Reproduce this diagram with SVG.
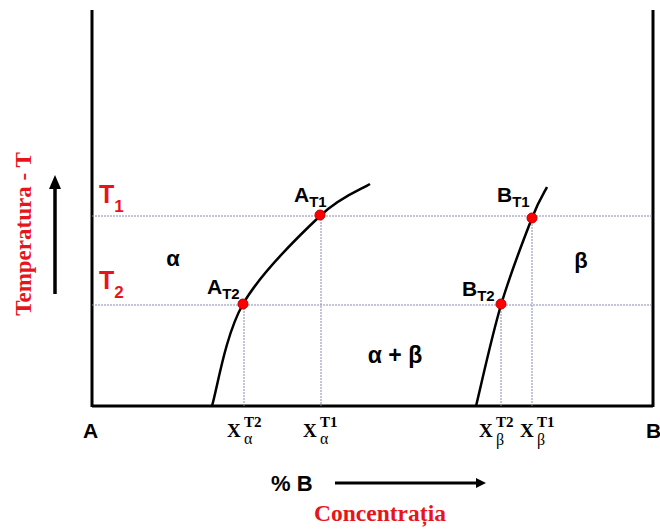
<svg xmlns="http://www.w3.org/2000/svg" width="660" height="531" viewBox="0 0 660 531">
<defs>
<style>
.ax{stroke:#000;stroke-width:3;fill:none}
.dot{stroke:#8a8ab4;stroke-width:1;stroke-dasharray:2,1;fill:none}
.crv{stroke:#000;stroke-width:2.5;fill:none}
.pt{fill:#ff0000;stroke:#c00000;stroke-width:1}
.lbl{font-family:"Liberation Sans",Arial,sans-serif;font-weight:bold;fill:#000}
.red{font-family:"Liberation Sans",Arial,sans-serif;font-weight:bold;fill:#e8141c}
.ser{font-family:"Liberation Serif","Times New Roman",serif;font-weight:bold}
</style>
<marker id="ah" markerWidth="10" markerHeight="10" refX="6" refY="5" orient="auto" markerUnits="userSpaceOnUse" viewBox="0 0 10 10">
<path d="M0,0 L10,5 L0,10 Z" fill="#000"/>
</marker>
<marker id="ah2" markerWidth="14" markerHeight="14" refX="9" refY="7" orient="auto" markerUnits="userSpaceOnUse" viewBox="0 0 14 14">
<path d="M0,1 L14,7 L0,13 Z" fill="#000"/>
</marker>
</defs>
<rect width="660" height="531" fill="#fff"/>

<g id="axes">
<path class="ax" d="M92,10 V407 M653,10 V407 M92,406 H653"/>
</g>

<g id="connectors">
<path class="dot" d="M92,216 H653 M92,305 H653"/>
<path class="dot" d="M321,216 V406 M244,305 V406 M532,218 V406 M501,305 V406"/>
<path class="crv" d="M212,406 C217.2,389 225,335.7 243,304 C261,272.3 298.8,236 320,216 C341.2,196 361.7,189.3 370,184"/>
<path class="crv" d="M476,406 C480.2,389.2 491.7,336.3 501,305 C510.3,273.7 524.3,237.7 532,218 C539.7,198.3 544.5,192.2 547,187"/>
<line x1="55" y1="294" x2="55" y2="180" stroke="#000" stroke-width="3.5" marker-end="url(#ah2)"/>
<line x1="335" y1="483" x2="482" y2="483" stroke="#000" stroke-width="3" marker-end="url(#ah)"/>
</g>

<g id="pAT1"><circle class="pt" cx="320" cy="215" r="5"/><text class="lbl" x="294" y="202" font-size="21">A<tspan font-size="15" dy="5">T1</tspan></text></g>
<g id="pAT2"><circle class="pt" cx="243" cy="304" r="5"/><text class="lbl" x="207" y="294" font-size="21">A<tspan font-size="15" dy="5">T2</tspan></text></g>
<g id="pBT1"><circle class="pt" cx="532" cy="218" r="5"/><text class="lbl" x="497" y="202" font-size="21">B<tspan font-size="15" dy="5">T1</tspan></text></g>
<g id="pBT2"><circle class="pt" cx="501" cy="304" r="5"/><text class="lbl" x="462" y="296" font-size="21">B<tspan font-size="15" dy="5">T2</tspan></text></g>

<g id="phases">
<text class="lbl" x="173" y="266" font-size="22" text-anchor="middle">α</text>
<text class="lbl" x="581" y="268" font-size="22" text-anchor="middle">β</text>
<text class="lbl" x="395" y="363" font-size="23" text-anchor="middle">α + β</text>
</g>

<g id="temps">
<text class="red" x="99" y="203" font-size="25">T<tspan font-size="17" dy="9">1</tspan></text>
<text class="red" x="99" y="289" font-size="25">T<tspan font-size="17" dy="9">2</tspan></text>
<text class="ser" fill="#e8141c" font-size="23" text-anchor="middle" transform="translate(31,234) rotate(-90)">Temperatura - T</text>
</g>

<g id="xlabels">
<text class="lbl" x="83" y="438" font-size="21">A</text>
<text class="lbl" x="646" y="438" font-size="21">B</text>
<g class="ser" font-size="19" fill="#000">
<text x="227" y="437">X</text><text x="244" y="427" font-size="15">T2</text><text x="244" y="444" font-size="16" font-weight="normal">α</text>
<text x="303" y="437">X</text><text x="320" y="427" font-size="15">T1</text><text x="320" y="444" font-size="16" font-weight="normal">α</text>
<text x="479" y="437">X</text><text x="496" y="427" font-size="15">T2</text><text x="496" y="445" font-size="16" font-weight="normal">β</text>
<text x="520" y="437">X</text><text x="537" y="427" font-size="15">T1</text><text x="537" y="445" font-size="16" font-weight="normal">β</text>
</g>
<text class="lbl" x="271" y="491" font-size="22">% B</text>
<text class="ser" fill="#e8141c" x="380" y="521" font-size="23.5" text-anchor="middle">Concentrația</text>
</g>
</svg>
